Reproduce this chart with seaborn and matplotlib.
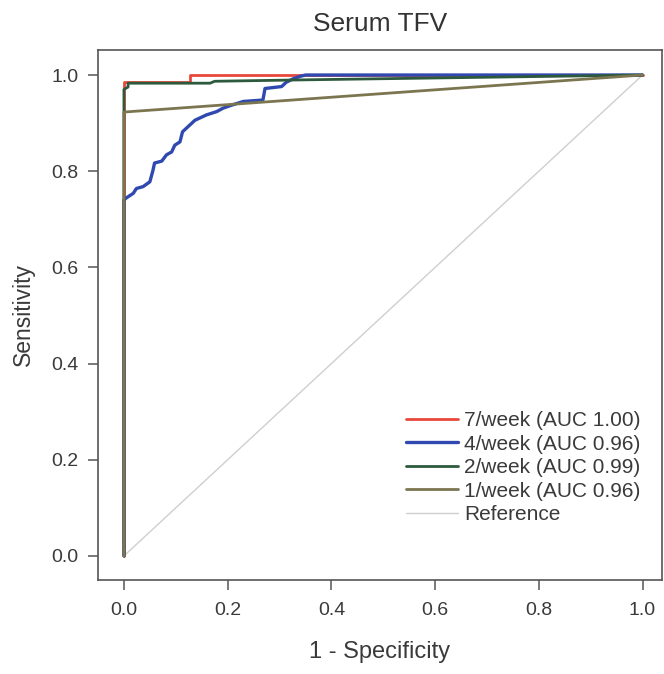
import matplotlib
matplotlib.use("Agg")
import matplotlib.pyplot as plt
import seaborn as sns
import pandas as pd

sns.set_theme(style="white")
plt.rcParams['font.family'] = ['Liberation Sans', 'DejaVu Sans']

# ROC curves (1 - specificity, sensitivity)
fpr_7 = [0.0, 0.0, 0.127, 0.127, 1.0]
tpr_7 = [0.0, 0.985, 0.985, 1.0, 1.0]

fpr_4 = [0.0, 0.0, 0.004, 0.018, 0.024, 0.037, 0.05, 0.056, 0.059, 0.073, 0.082,
         0.092, 0.098, 0.108, 0.113, 0.124, 0.137, 0.159, 0.179, 0.191, 0.204,
         0.23, 0.268, 0.272, 0.304, 0.313, 0.326, 0.339, 0.35, 1.0]
tpr_4 = [0.0, 0.74, 0.744, 0.754, 0.764, 0.768, 0.778, 0.802, 0.817, 0.821, 0.834,
         0.84, 0.854, 0.861, 0.882, 0.893, 0.906, 0.917, 0.924, 0.931, 0.936,
         0.945, 0.948, 0.972, 0.976, 0.985, 0.992, 0.997, 1.0, 1.0]

fpr_2 = [0.0, 0.0, 0.008, 0.008, 0.166, 0.175, 0.35, 1.0]
tpr_2 = [0.0, 0.97, 0.975, 0.983, 0.983, 0.987, 0.99, 1.0]

fpr_1 = [0.0, 0.0, 1.0]
tpr_1 = [0.0, 0.923, 1.0]

ref_x = [0.0, 1.0]
ref_y = [0.0, 1.0]

labels = ["7/week (AUC 1.00)", "4/week (AUC 0.96)", "2/week (AUC 0.99)",
          "1/week (AUC 0.96)", "Reference"]
colors = ["#e8473c", "#3049b0", "#2d5a3c", "#7b7650", "#cfcfcf"]
widths = [2.0, 2.4, 2.0, 2.0, 1.0]

series = [(fpr_7, tpr_7), (fpr_4, tpr_4), (fpr_2, tpr_2), (fpr_1, tpr_1), (ref_x, ref_y)]

fig = plt.figure(figsize=(6.64, 6.74), dpi=100)
ax = fig.add_axes([0.1476, 0.1395, 0.849, 0.7863])

# draw order: reference, red, blue, green, olive (legend order kept separately)
handles = {}
for idx in [4, 0, 1, 2, 3]:
    x, y = series[idx]
    df = pd.DataFrame({"x": x, "y": y})
    sns.lineplot(data=df, x="x", y="y", ax=ax, sort=False, estimator=None,
                 color=colors[idx], linewidth=widths[idx])
    handles[idx] = ax.lines[-1]

ax.set_xlim(-0.05, 1.037)
ax.set_ylim(-0.05, 1.052)
ticks = [0, 0.2, 0.4, 0.6, 0.8, 1.0]
tick_labels = ["0.0", "0.2", "0.4", "0.6", "0.8", "1.0"]
ax.set_xticks(ticks)
ax.set_yticks(ticks)
ax.set_xticklabels(tick_labels)
ax.set_yticklabels(tick_labels)
ax.tick_params(axis="both", direction="out", length=7, width=1.1, color="#555555",
               labelsize=14, labelcolor="#3a3a3a", bottom=True, left=True)
ax.tick_params(axis="x", pad=9)
ax.tick_params(axis="y", pad=7)
for s in ax.spines.values():
    s.set_color("#555555")
    s.set_linewidth(1.2)

ax.set_xlabel("1 - Specificity", fontsize=17, color="#3a3a3a", labelpad=16)
ax.set_ylabel("Sensitivity", fontsize=16.5, color="#3a3a3a", labelpad=12)
ax.set_title("Serum TFV", fontsize=19, color="#333333", pad=14)

leg = ax.legend([handles[i] for i in range(5)], labels, loc="lower right",
                bbox_to_anchor=(0.963, 0.105), frameon=False, fontsize=15,
                labelspacing=0.22, handlelength=2.5, handletextpad=0.3,
                borderpad=0, borderaxespad=0)
for t in leg.get_texts():
    t.set_color("#3a3a3a")

fig.savefig("out.png", dpi=100)
